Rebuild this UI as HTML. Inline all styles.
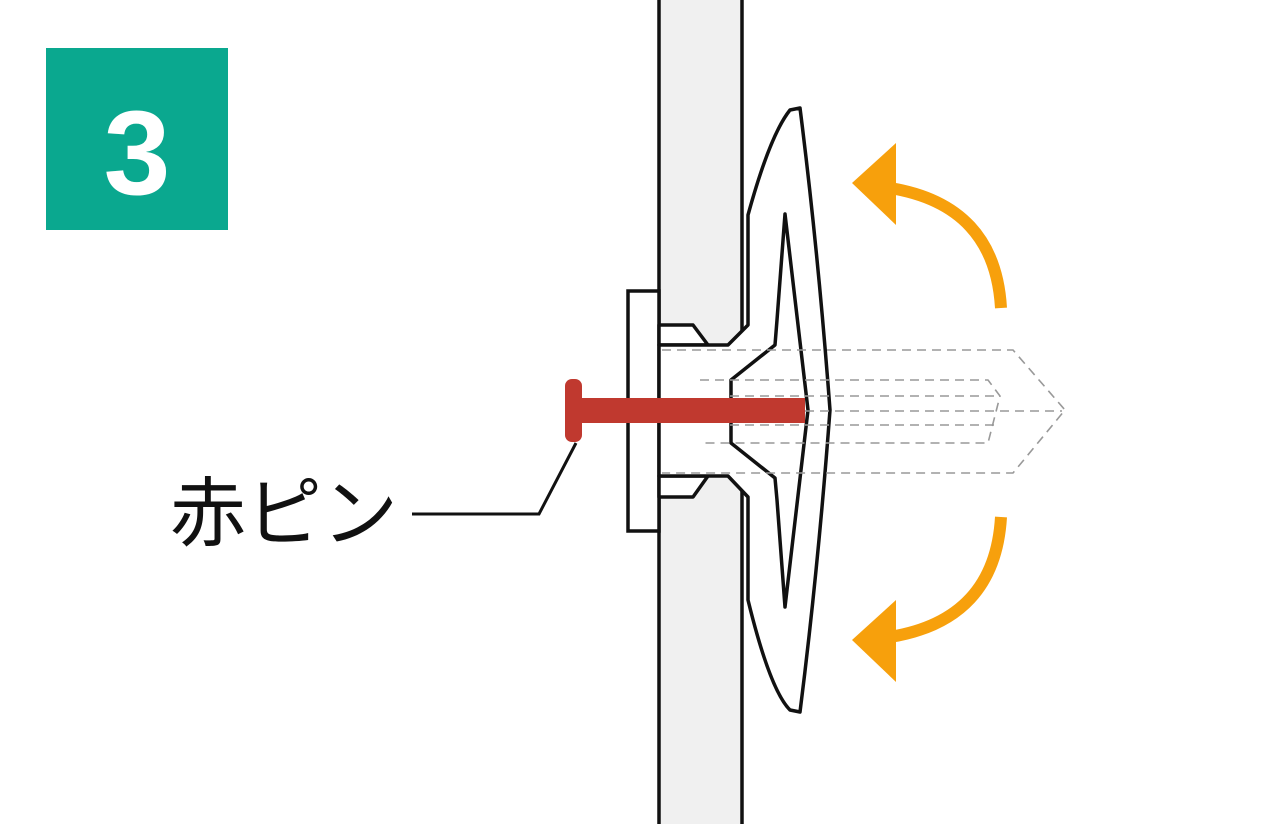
<!DOCTYPE html>
<html><head><meta charset="utf-8"><style>
html,body{margin:0;padding:0;background:#fff;}
svg{display:block}
</style></head><body>
<svg width="1280" height="824" viewBox="0 0 1280 824" xmlns="http://www.w3.org/2000/svg">
<rect x="46" y="48" width="182" height="182" fill="#0aa88f"/>
<text x="137" y="194" text-anchor="middle" font-family="Liberation Sans, sans-serif" font-weight="bold" font-size="120" fill="#fff">3</text>
<!-- wall -->
<rect x="659" y="-5" width="83" height="840" fill="#f0f0f0" stroke="#111" stroke-width="3.5"/>
<!-- plate -->
<rect x="628" y="291" width="31" height="240" fill="#fff" stroke="#111" stroke-width="3.5"/>
<!-- neck + body -->
<path d="M659 325 L693 325 L708 345 L659 345 Z" fill="#fff" stroke="#111" stroke-width="3.5" stroke-linejoin="round"/>
<path d="M659 497 L693 497 L708 476 L659 476 Z" fill="#fff" stroke="#111" stroke-width="3.5" stroke-linejoin="round"/>
<path d="M659 345 L728 345 L748 325 L748 215 Q770 135 790 110 L800 108 Q818 250 830 410 Q818 570 800 712 L790 710 Q770 690 748 600 L748 497 L728 476 L659 476 Z" fill="#fff" stroke="#111" stroke-width="3.5" stroke-linejoin="round"/>
<path d="M785 214 L777 320 L775 345 L731 380 L731 443 L775 478 L777 500 L785 607 L808 410 Z" fill="#fff" stroke="#111" stroke-width="3.5" stroke-linejoin="round"/>
<!-- dashed -->
<g stroke="#999" stroke-width="1.6" stroke-dasharray="9 6" fill="none">
<path d="M662 350 L1013 350 L1065 410 L1013 473 L662 473"/>
<path d="M700 380 L988 380 L1000 396 L988 443 L700 443"/>
<path d="M730 396 L998 396 M730 425 L998 425"/>
<path d="M805 411 L1062 411"/>
</g>
<!-- red pin -->
<rect x="572" y="398" width="233" height="25" fill="#c0392f"/>
<rect x="565" y="379" width="17" height="63" rx="7" fill="#c0392f"/>
<!-- leader -->
<path d="M576 443 L539 514 L412 514" fill="none" stroke="#111" stroke-width="3"/>
<text x="170" y="540" font-family="Liberation Sans, 'Noto Sans CJK JP', sans-serif" font-size="76" fill="#111">赤ピン</text>
<!-- orange arrows -->
<g fill="none" stroke="#f7a00c" stroke-width="12">
<path d="M1001 308 Q995 205 890 188"/>
<path d="M1001 517 Q995 620 890 637"/>
</g>
<g fill="#f7a00c">
<polygon points="852,183 896,143 896,225"/>
<polygon points="852,640 896,600 896,682"/>
</g>
</svg>
</body></html>
